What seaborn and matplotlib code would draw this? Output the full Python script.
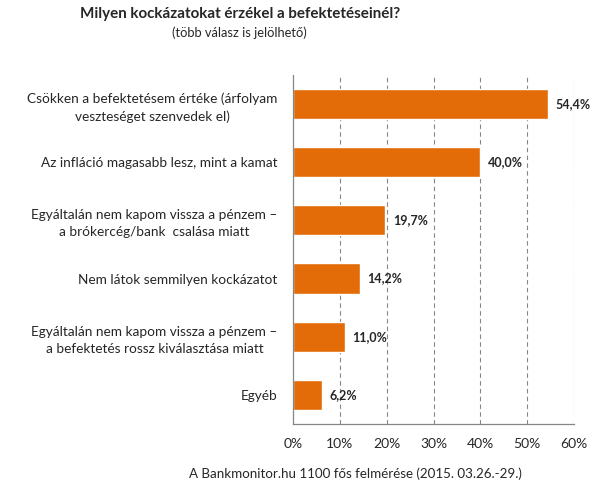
import matplotlib
matplotlib.use("Agg")
import matplotlib.pyplot as plt
import seaborn as sns
import pandas as pd
import numpy as np

categories = [
    "Csökken a befektetésem értéke (árfolyam\nveszteséget szenvedek el)",
    "Az infláció magasabb lesz, mint a kamat",
    "Egyáltalán nem kapom vissza a pénzem –\na brókercég/bank  csalása miatt",
    "Nem látok semmilyen kockázatot",
    "Egyáltalán nem kapom vissza a pénzem –\na befektetés rossz kiválasztása miatt",
    "Egyéb",
]
values = [54.4, 40.0, 19.7, 14.2, 11.0, 6.2]
value_labels = ["54,4%", "40,0%", "19,7%", "14,2%", "11,0%", "6,2%"]
xticks = [0, 10, 20, 30, 40, 50, 60]

sns.set_style("white")
plt.rcParams["font.family"] = ["Lato", "DejaVu Sans"]

df = pd.DataFrame({"cat": categories, "val": values})

fig = plt.figure(figsize=(5.98, 4.92), dpi=100)
ax = fig.add_axes([0.490, 0.138, 0.470, 0.710])

sns.barplot(data=df, x="val", y="cat", color="#E36C09", saturation=1,
            width=0.52, ax=ax, orient="h")

ax.set_xlim(0, 60)
ax.set_ylim(5.5, -0.5)
ax.set_xticks(xticks)
ax.set_xticklabels([f"{t}%" for t in xticks], fontsize=10)
ax.set_xlabel("")
ax.set_ylabel("")
ax.set_yticks(range(len(categories)))
ax.set_yticklabels(categories, fontsize=9.8, ha="right",
                   multialignment="center", linespacing=1.5)
ax.tick_params(axis="y", length=0, pad=11)
ax.tick_params(axis="x", length=4, color="#868686", pad=6)

# category boundary ticks on the left axis
ax.set_yticks(np.arange(-0.5, len(categories), 1), minor=True)
ax.tick_params(axis="y", which="minor", length=4, color="#868686")

for x in xticks[1:]:
    ax.axvline(x, color="#868686", lw=0.8, ls=(0, (4, 3)), zorder=0)

for s in ["top", "right"]:
    ax.spines[s].set_visible(False)
for s in ["left", "bottom"]:
    ax.spines[s].set_color("#868686")
    ax.spines[s].set_linewidth(0.9)

for i, (v, lab) in enumerate(zip(values, value_labels)):
    ax.text(v + 1.6, i, lab, va="center", ha="left", fontsize=9,
            fontweight="bold")

fig.text(0.401, 0.972, "Milyen kockázatokat érzékel a befektetéseinél?",
         ha="center", va="center", fontsize=10.9, fontweight="bold")
fig.text(0.401, 0.933, "(több válasz is jelölhető)", ha="center",
         va="center", fontsize=9.3)
fig.text(0.594, 0.038, "A Bankmonitor.hu 1100 fős felmérése (2015. 03.26.-29.)",
         ha="center", va="center", fontsize=9.6)

fig.savefig("out.png", dpi=100)
